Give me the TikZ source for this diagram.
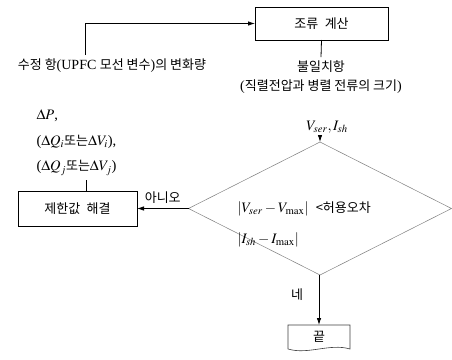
\documentclass[tikz,border=0pt]{standalone}
\usepackage{mathptmx}
\usepackage{fontspec}
\setmainfont{Liberation Serif}
\newfontfamily\kr{Noto Sans CJK KR}
\usetikzlibrary{arrows.meta,shapes.geometric}
\begin{document}
\begin{tikzpicture}[x=1pt,y=-1pt,
  box/.style={draw,line width=0.8pt,inner sep=0pt,outer sep=0pt},
  arr/.style={line width=0.8pt,-{Latex[length=7pt,width=4.5pt]}},
  con/.style={line width=0.8pt},
  kt/.style={font=\kr\fontsize{13}{19}\selectfont},
  mt/.style={font=\fontsize{14.5}{16}\selectfont}
]
\useasboundingbox[fill=white] (0,0) rectangle (452,359);

% top box
\node[box,kt,minimum width=133pt,minimum height=33pt] (calc) at (321.5,23.5) {조류\enspace 계산};

% source text
\node[kt] (src) at (112,66) {수정 항{\fontsize{14}{16}\rmfamily(UPFC }모선 변수{\fontsize{14}{16}\rmfamily)}의 변화량};
\coordinate (srcTop) at (85,55);
\draw[arr] (srcTop) |- (calc.west);

% mismatch text
\node[kt,align=center] (mis) at (321,77) {불일치항\\{\fontsize{14}{16}\rmfamily(}직렬전압과 병렬 전류의 크기{\fontsize{14}{16}\rmfamily)}};
\draw[con] (calc.south) -- (mis.north);

% diamond
\node[draw,diamond,gray,line width=0.5pt,minimum width=263pt,minimum height=133pt,inner sep=0pt,outer sep=0pt] (dia) at (320,208.5) {};

\node[mt] (vlab) at (327,127) {$V_{ser}, I_{sh}$};
\draw[arr] (vlab.south -| dia.north) -- (dia.north);

\node[mt,anchor=west] (c1) at (234,209) {$|V_{ser}-V_{\max}|$\enspace{\kr\fontsize{13}{15}\selectfont <허용오차}};
\node[mt,anchor=west] (c2) at (234,240) {$|I_{sh}-I_{\max}|$};

% left box
\node[box,kt,minimum width=119pt,minimum height=35pt] (fix) at (77.5,208.5) {제한값\enspace 해결};
\draw[arr] (dia.west) -- (fix.east) node[kt,midway,above=1pt] {아니오};

% deltas
\node[mt,anchor=west] (d1) at (33,116) {$\Delta P$,};
\node[mt,anchor=west] (d2) at (33,142) {($\Delta Q_i${\kr\fontsize{13}{15}\selectfont 또는}$\Delta V_i$),};
\node[mt,anchor=west] (d3) at (33,168) {($\Delta Q_j${\kr\fontsize{13}{15}\selectfont 또는}$\Delta V_j$)};
\coordinate (dj) at (86,180);
\draw[con] (fix.north -| dj) -- (dj);

% yes branch
\node[kt] (yes) at (297,295) {네};
\node[kt,minimum width=62pt,minimum height=24pt,inner sep=0pt,outer sep=0pt] (end) at (319,337) {끝};
\draw[arr] (dia.south -| end.north) -- (end.north);
\draw[line width=0.6pt,darkgray] (end.south west) -- (end.north west) -- (end.north east) -- (end.south east)
  .. controls +(-20,-6) and +(20,6) .. (end.south west);
\end{tikzpicture}
\end{document}
